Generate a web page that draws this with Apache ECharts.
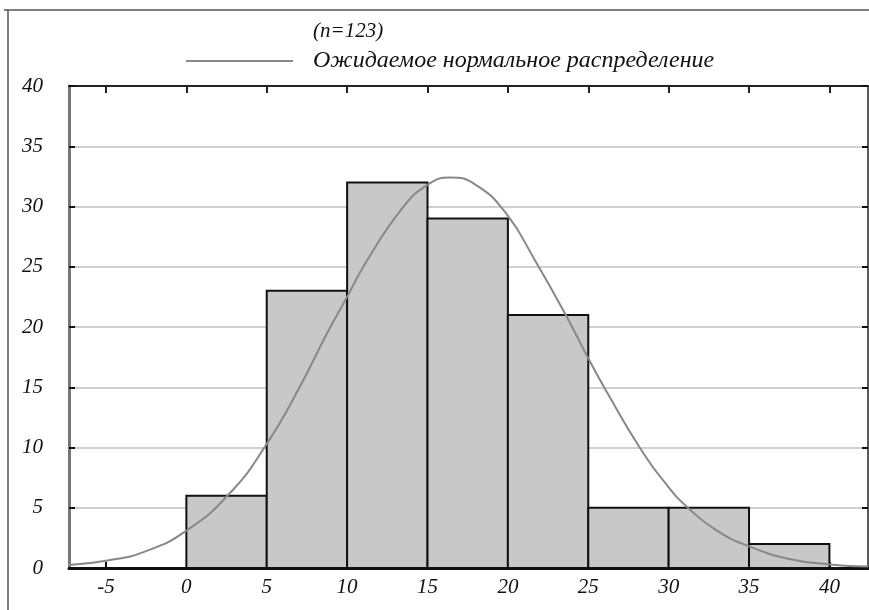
<!DOCTYPE html>
<html>
<head>
<meta charset="utf-8">
<script src="https://cdn.jsdelivr.net/npm/echarts@6/dist/echarts.min.js"></script>
<style>
  html, body { margin: 0; padding: 0; background: #fff; }
  #main { width: 869px; height: 610px; }
</style>
</head>
<body>
<div id="main"></div>
<script>
// histogram bins
var binStart = [0, 5, 10, 15, 20, 25, 30, 35];
var binEnd = [5, 10, 15, 20, 25, 30, 35, 40];
var counts = [6, 23, 32, 29, 21, 5, 5, 2];

// expected normal curve
var curveX = [-7.3, -5, -2.5, 0, 2.7, 5, 7, 8.8, 10, 11.1, 13.4, 15, 16.4, 18, 19.9, 21.7, 23.6, 25, 26.2, 28.2, 30, 31.2, 33, 35, 37.5, 40, 42.4];
var curveY = [0.25, 0.6, 1.4, 3.1, 6.2, 10.3, 14.9, 19.6, 22.5, 25.2, 29.8, 31.8, 32.4, 31.8, 29.4, 25.5, 21, 17.4, 14.5, 10, 6.7, 5, 3.1, 1.8, 0.75, 0.3, 0.12];

var xTicks = [-5, 0, 5, 10, 15, 20, 25, 30, 35, 40];
var yTicks = [0, 5, 10, 15, 20, 25, 30, 35, 40];

var curveName = 'Ожидаемое нормальное распределение';
var labelFont = {
    fontFamily: 'Liberation Serif',
    fontStyle: 'italic',
    fontSize: 21,
    color: '#111'
};

var bars = binStart.map(function (s, i) { return [s, binEnd[i], counts[i]]; });
var curve = curveX.map(function (x, i) { return [x, curveY[i]]; });

var myChart = echarts.init(document.getElementById('main'));
var option = {
    animation: false,
    backgroundColor: '#fff',
    title: {
        text: '(n=123)',
        left: 308,
        top: 16,
        textStyle: {
            fontFamily: 'Liberation Serif',
            fontStyle: 'italic',
            fontWeight: 'normal',
            fontSize: 21,
            color: '#111'
        }
    },
    legend: {
        data: [{ name: curveName, icon: 'rect' }],
        left: 186,
        top: 49,
        padding: 0,
        itemWidth: 107,
        itemHeight: 2,
        itemGap: 0,
        textStyle: {
            fontFamily: 'Liberation Serif',
            fontStyle: 'italic',
            fontSize: 24,
            color: '#111',
            padding: [0, 0, 0, 15]
        }
    },
    graphic: [
        { type: 'line', shape: { x1: 8, y1: 10, x2: 8, y2: 610 }, style: { stroke: '#555', lineWidth: 1.5 } },
        { type: 'line', shape: { x1: 4, y1: 10, x2: 869, y2: 10 }, style: { stroke: '#555', lineWidth: 1.5 } }
    ],
    grid: {
        left: 69,
        right: 1,
        top: 86,
        bottom: 42
    },
    xAxis: [
        {
            type: 'value',
            min: -7.3,
            max: 42.4,
            position: 'bottom',
            axisLine: { onZero: false, lineStyle: { color: '#111', width: 3 } },
            axisTick: { inside: true, length: 6, customValues: xTicks, lineStyle: { color: '#111', width: 2 } },
            axisLabel: Object.assign({ customValues: xTicks, margin: 9 }, labelFont),
            splitLine: { show: false }
        },
        {
            type: 'value',
            min: -7.3,
            max: 42.4,
            position: 'top',
            axisLine: { onZero: false, lineStyle: { color: '#222', width: 2 } },
            axisTick: { inside: true, length: 7, customValues: xTicks, lineStyle: { color: '#222', width: 2 } },
            axisLabel: { show: false },
            splitLine: { show: false }
        }
    ],
    yAxis: [
        {
            type: 'value',
            min: 0,
            max: 40,
            position: 'left',
            axisLine: { show: true, onZero: false, lineStyle: { color: '#777', width: 3 } },
            axisTick: { show: true, inside: true, length: 6, customValues: yTicks, lineStyle: { color: '#111', width: 2 } },
            axisLabel: Object.assign({ customValues: yTicks, margin: 26 }, labelFont),
            splitLine: { show: true, lineStyle: { color: '#d0d0d0', width: 2 } }
        },
        {
            type: 'value',
            min: 0,
            max: 40,
            position: 'right',
            axisLine: { show: true, onZero: false, lineStyle: { color: '#222', width: 1.5 } },
            axisTick: { show: true, inside: true, length: 6, customValues: yTicks, lineStyle: { color: '#111', width: 2 } },
            axisLabel: { show: false },
            splitLine: { show: false }
        }
    ],
    series: [
        {
            type: 'custom',
            name: 'hist',
            xAxisIndex: 0,
            yAxisIndex: 0,
            data: bars,
            encode: { x: [0, 1], y: 2 },
            z: 2,
            renderItem: function (params, api) {
                var p0 = api.coord([api.value(0), api.value(2)]);
                var p1 = api.coord([api.value(1), 0]);
                return {
                    type: 'rect',
                    shape: { x: p0[0], y: p0[1], width: p1[0] - p0[0], height: p1[1] - p0[1] },
                    style: { fill: '#c8c8c8', stroke: '#111', lineWidth: 2 }
                };
            }
        },
        {
            type: 'line',
            name: curveName,
            xAxisIndex: 0,
            yAxisIndex: 0,
            data: curve,
            smooth: 0.5,
            showSymbol: false,
            z: 3,
            color: '#888',
            lineStyle: { color: '#888', width: 2 }
        }
    ]
};
myChart.setOption(option);
</script>
</body>
</html>
